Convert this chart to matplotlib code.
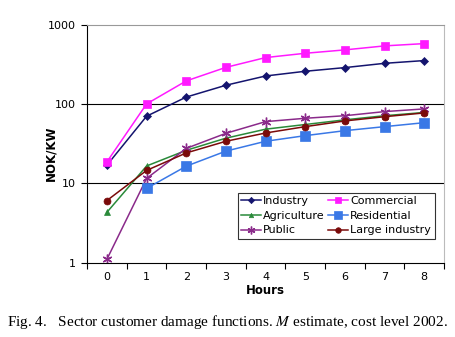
import matplotlib
matplotlib.use("Agg")
import matplotlib.pyplot as plt
import numpy as np

hours = [0, 1, 2, 3, 4, 5, 6, 7, 8]
industry = [16.9, 70, 122, 172, 225, 258, 287, 325, 352]
commercial = [18.6, 100, 195, 289, 384, 435, 480, 539, 576]
agriculture = [4.3, 16.5, 26, 37, 48, 55, 63, 71, 78]
residential = [None, 8.6, 16.4, 25.4, 33.8, 39.8, 46, 51.7, 58]
public = [1.1, 11.5, 27.5, 42.6, 59.8, 65.9, 71, 80, 86.5]
large_industry = [6.05, 14.5, 24.1, 33.8, 43, 51.7, 61, 69, 77]

series = [
    ("Industry", industry, "#14146e", "D", 4),
    ("Agriculture", agriculture, "#2a8a3a", "^", 4),
    ("Public", public, "#8a2a8a", (6, 2, 0), 7),
    ("Commercial", commercial, "#ff1aff", "s", 5.5),
    ("Residential", residential, "#3a78e6", "s", 7),
    ("Large industry", large_industry, "#7a0a0a", "o", 5),
]

plt.rcParams["mathtext.fontset"] = "stix"
fig = plt.figure(figsize=(4.56, 3.37), dpi=100)
ax = fig.add_axes([0.191, 0.221, 0.783, 0.706])

for name, vals, col, mk, ms in series:
    x = [h for h, v in zip(hours, vals) if v is not None]
    y = [v for v in vals if v is not None]
    ax.plot(x, y, color=col, marker=mk, markersize=ms, linewidth=1.1,
            markeredgewidth=1.0 if mk == (6, 2, 0) else 0.5,
            markeredgecolor=col, label=name)

ax.set_yscale("log")
ax.set_ylim(1, 1000)
ax.set_xlim(-0.5, 8.5)
ax.set_yticks([1, 10, 100, 1000])
ax.set_yticklabels(["1", "10", "100", "1000"])
ax.yaxis.set_minor_locator(matplotlib.ticker.NullLocator())
ax.set_xticks(hours)
ax.set_xticks(np.arange(-0.5, 9, 1), minor=True)
ax.tick_params(axis="x", which="major", length=0, labelsize=8, pad=7)
ax.tick_params(axis="x", which="minor", length=4, direction="out", width=0.8)
ax.tick_params(axis="y", which="major", length=4.5, direction="out", labelsize=8, width=0.8)

for v in [10, 100]:
    ax.axhline(v, color="black", linewidth=0.8, zorder=0)

ax.spines["top"].set_color("#999999")
ax.spines["right"].set_color("#bbbbbb")
ax.spines["left"].set_color("black")
ax.spines["bottom"].set_color("black")
for s in ax.spines.values():
    s.set_linewidth(0.8)

ax.set_xlabel("Hours", fontsize=8.5, fontweight="bold", labelpad=1)
ax.set_ylabel("NOK/KW", fontsize=8.5, fontweight="bold")
ax.yaxis.label.set_va("center")
ax.yaxis.set_label_coords(-0.101, 0.46)

leg = ax.legend(ncol=2, loc="lower right", bbox_to_anchor=(0.973, 0.10),
                fontsize=8, frameon=True, fancybox=False,
                handlelength=1.8, handletextpad=0.2, columnspacing=0.3,
                labelspacing=0.42, borderpad=0.3, borderaxespad=0,
                markerscale=0.8)
leg.get_frame().set_edgecolor("black")
leg.get_frame().set_linewidth(0.8)

fig.text(0.015, 0.045, "Fig. 4.   Sector customer damage functions. $M$ estimate, cost level 2002.",
         fontsize=11, family="Liberation Serif", ha="left", va="center")

fig.savefig("out.png", dpi=100)
